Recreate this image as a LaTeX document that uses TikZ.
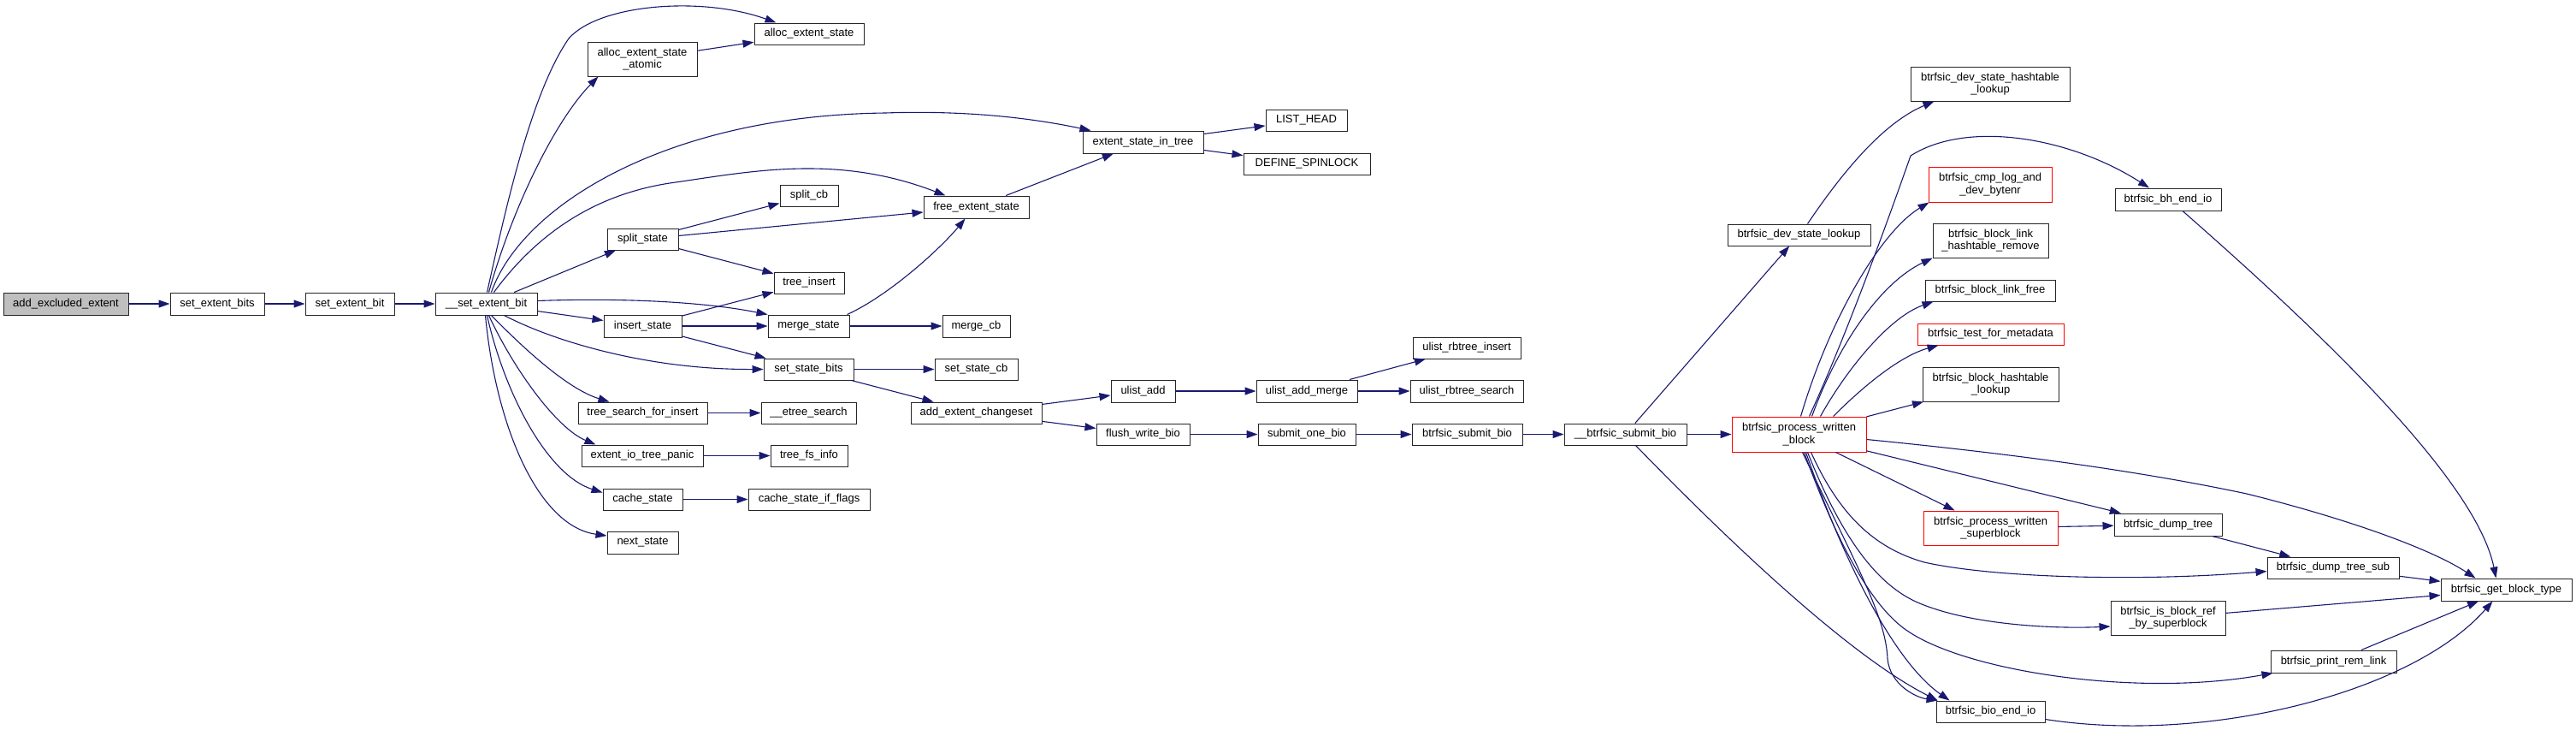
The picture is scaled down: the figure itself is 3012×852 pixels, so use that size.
\documentclass[tikz,border=0pt]{standalone}
\usepackage{fontspec}
\setmainfont{Liberation Sans}
\usetikzlibrary{arrows.meta,calc}
\definecolor{edgeblue}{RGB}{25,25,112}
\definecolor{rootgray}{RGB}{191,191,191}
\definecolor{trunc}{RGB}{255,0,0}
\tikzset{
  box/.style={draw=black!85, line width=0.5pt, fill=white, inner sep=0pt, align=center, rectangle,
              font=\fontsize{6.5pt}{7.3pt}\selectfont},
  rbox/.style={box, draw=trunc},
  gbox/.style={box, fill=rootgray},
  conn/.style={draw=edgeblue, line width=0.55pt, -{Triangle[length=6.5pt,width=4.5pt]}}
}
\newcommand{\mkbox}[7][box]{%
  \node[#1, minimum width={(#4-#2)*0.5pt}, minimum height={(#5-#3)*0.5pt}] (#6) at ({(#2+#4)/2},{(#3+#5)/2}) {#7};}
\begin{document}
\begin{tikzpicture}[x=0.5pt,y=-0.5pt]
\useasboundingbox (0,0) rectangle (3012,852);
% nodes
\mkbox[gbox]{4}{342}{150}{368}{n1}{add\_excluded\_extent}
\mkbox{199}{342}{309}{368}{n2}{set\_extent\_bits}
\mkbox{357}{342}{461}{368}{n3}{set\_extent\_bit}
\mkbox{509}{342}{628}{368}{sxb}{\_\_set\_extent\_bit}
\mkbox{882}{27}{1010}{52}{aes}{alloc\_extent\_state}
\mkbox{687}{49}{815}{89}{aesa}{alloc\_extent\_state\\\_atomic}
\mkbox{1266}{153}{1407}{179}{esit}{extent\_state\_in\_tree}
\mkbox{1480}{128}{1575}{153}{lh}{LIST\_HEAD}
\mkbox{1454}{179}{1602}{204}{ds}{DEFINE\_SPINLOCK}
\mkbox{912}{216}{980}{241}{scb}{split\_cb}
\mkbox{1080}{229}{1203}{255}{fes}{free\_extent\_state}
\mkbox{710}{267}{793}{292}{ss}{split\_state}
\mkbox{905}{318}{987}{343}{ti}{tree\_insert}
\mkbox{706}{368}{797}{394}{is}{insert\_state}
\mkbox{898}{368}{993}{394}{ms}{merge\_state}
\mkbox{1102}{368}{1181}{394}{mcb}{merge\_cb}
\mkbox{893}{419}{998}{444}{ssb}{set\_state\_bits}
\mkbox{1093}{419}{1190}{444}{sscb}{set\_state\_cb}
\mkbox{1065}{470}{1218}{495}{aec}{add\_extent\_changeset}
\mkbox{676}{470}{827}{495}{tsfi}{tree\_search\_for\_insert}
\mkbox{890}{470}{1001}{495}{ets}{\_\_etree\_search}
\mkbox{680}{520}{822}{545}{eitp}{extent\_io\_tree\_panic}
\mkbox{901}{520}{991}{545}{tfi}{tree\_fs\_info}
\mkbox{705}{571}{798}{596}{cs}{cache\_state}
\mkbox{875}{571}{1017}{596}{csif}{cache\_state\_if\_flags}
\mkbox{710}{621}{793}{647}{ns}{next\_state}
\mkbox{1299}{444}{1374}{470}{ua}{ulist\_add}
\mkbox{1469}{444}{1587}{470}{uam}{ulist\_add\_merge}
\mkbox{1652}{394}{1778}{419}{uri}{ulist\_rbtree\_insert}
\mkbox{1649}{444}{1781}{470}{urs}{ulist\_rbtree\_search}
\mkbox{1282}{495}{1391}{520}{fwb}{flush\_write\_bio}
\mkbox{1471}{495}{1585}{520}{sob}{submit\_one\_bio}
\mkbox{1651}{495}{1780}{520}{bsb}{btrfsic\_submit\_bio}
\mkbox{1829}{495}{1972}{520}{ubsb}{\_\_btrfsic\_submit\_bio}
\mkbox{2020}{262}{2187}{287}{dsl}{btrfsic\_dev\_state\_lookup}
\mkbox{2234}{78}{2420}{118}{dshl}{btrfsic\_dev\_state\_hashtable\\\_lookup}
\mkbox[rbox]{2255}{195}{2399}{236}{cmp}{btrfsic\_cmp\_log\_and\\\_dev\_bytenr}
\mkbox{2473}{220}{2597}{246}{bheio}{btrfsic\_bh\_end\_io}
\mkbox{2260}{261}{2395}{301}{blhr}{btrfsic\_block\_link\\\_hashtable\_remove}
\mkbox{2251}{327}{2403}{352}{blf}{btrfsic\_block\_link\_free}
\mkbox[rbox]{2242}{378}{2413}{403}{tfm}{btrfsic\_test\_for\_metadata}
\mkbox{2248}{429}{2407}{469}{bhl}{btrfsic\_block\_hashtable\\\_lookup}
\mkbox[rbox]{2025}{487}{2182}{528}{pwb}{btrfsic\_process\_written\\\_block}
\mkbox[rbox]{2249}{597}{2406}{637}{pws}{btrfsic\_process\_written\\\_superblock}
\mkbox{2472}{600}{2598}{626}{dt}{btrfsic\_dump\_tree}
\mkbox{2651}{651}{2805}{676}{dts}{btrfsic\_dump\_tree\_sub}
\mkbox{2854}{676}{3007}{702}{gbt}{btrfsic\_get\_block\_type}
\mkbox{2468}{702}{2602}{742}{ibr}{btrfsic\_is\_block\_ref\\\_by\_superblock}
\mkbox{2655}{760}{2802}{786}{prl}{btrfsic\_print\_rem\_link}
\mkbox{2264}{819}{2391}{844}{beio}{btrfsic\_bio\_end\_io}
% straight connectors
\draw[conn] (n1) -- (n2);
\draw[conn] (n2) -- (n3);
\draw[conn] (n3) -- (sxb);
\draw[conn] (sxb) -- (ss);
\draw[conn] (sxb) -- (is);
\draw[conn] (aesa) -- (aes);
\draw[conn] (ss) -- (scb);
\draw[conn] (ss) -- (fes);
\draw[conn] (ss) -- (ti);
\draw[conn] (is) -- (ti);
\draw[conn] (is) -- (ms);
\draw[conn] (is) -- (ssb);
\draw[conn] (ms) -- (mcb);
\draw[conn] (fes) -- (esit);
\draw[conn] (esit) -- (lh);
\draw[conn] (esit) -- (ds);
\draw[conn] (ssb) -- (sscb);
\draw[conn] (ssb) -- (aec);
\draw[conn] (tsfi) -- (ets);
\draw[conn] (eitp) -- (tfi);
\draw[conn] (cs) -- (csif);
\draw[conn] (aec) -- (ua);
\draw[conn] (aec) -- (fwb);
\draw[conn] (ua) -- (uam);
\draw[conn] (uam) -- (uri);
\draw[conn] (uam) -- (urs);
\draw[conn] (fwb) -- (sob);
\draw[conn] (sob) -- (bsb);
\draw[conn] (bsb) -- (ubsb);
\draw[conn] (ubsb) -- (dsl);
\draw[conn] (ubsb) -- (pwb);
\draw[conn] (pwb) -- (bhl);
\draw[conn] (pwb) -- (pws);
\draw[conn] (pwb) -- (dt);
\draw[conn] (pws) -- (dt);
\draw[conn] (dt) -- (dts);
\draw[conn] (dts) -- (gbt);
\draw[conn] (ibr) -- (gbt);
\draw[conn] (prl) -- (gbt);
% curved connectors from __set_extent_bit
\draw[conn] ($(sxb.north west)+(61,0)$) .. controls (590,250) and (620,110) .. (665,45)
  .. controls (700,5) and (820,-5) .. ($(aes.north west)+(26,0)$);
\draw[conn] ($(sxb.north west)+(63,0)$) .. controls (600,240) and (650,140) .. ($(aesa.south west)+(13,0)$);
\draw[conn] ($(sxb.north west)+(66,0)$) .. controls (610,240) and (780,135) .. (1035,132)
  .. controls (1150,128) and (1230,143) .. ($(esit.north west)+(10,0)$);
\draw[conn] ($(sxb.north west)+(69,0)$) .. controls (630,270) and (700,225) .. (790,213)
  .. controls (880,200) and (980,180) .. ($(fes.north west)+(26,0)$);
\draw[conn] ($(sxb.north east)+(0,10)$) .. controls (720,348) and (820,352) .. (ms.north west);
\draw[conn] ($(sxb.south west)+(81,0)$) .. controls (650,400) and (760,432) .. (ssb.west);
\draw[conn] ($(sxb.south west)+(66,0)$) .. controls (615,410) and (665,455) .. ($(tsfi.north west)+(37,0)$);
\draw[conn] ($(sxb.south west)+(63,0)$) .. controls (600,430) and (650,500) .. ($(eitp.north west)+(17,0)$);
\draw[conn] ($(sxb.south west)+(61,0)$) .. controls (590,460) and (640,555) .. ($(cs.west)+(0,-8)$);
\draw[conn] ($(sxb.south west)+(59,0)$) .. controls (580,500) and (630,615) .. ($(ns.west)+(0,-8)$);
\draw[conn] ($(ms.north east)+(-3,0)$) .. controls (1040,345) and (1100,290) .. ($(fes.south west)+(49,0)$);
% right part
\draw[conn] ($(ubsb.south)+(12,0)$) .. controls (1990,600) and (2150,760) .. ($(beio.north west)+(2,0)$);
\draw[conn] ($(dsl.north)+(10,0)$) .. controls (2165,185) and (2210,140) .. ($(dshl.south west)+(28,0)$);
\draw[conn] ($(pwb.north)+(12,0)$) .. controls (2160,390) and (2210,250) .. (2234,182)
  .. controls (2300,140) and (2420,160) .. ($(bheio.north)+(-22,0)$);
\draw[conn] ($(pwb.north)+(2,0)$) .. controls (2140,370) and (2200,270) .. ($(cmp.south west)+(1,0)$);
\draw[conn] ($(pwb.north)+(15,0)$) .. controls (2150,400) and (2200,330) .. (blhr.south west);
\draw[conn] ($(pwb.north)+(25,0)$) .. controls (2160,430) and (2210,370) .. ($(blf.south west)+(10,0)$);
\draw[conn] ($(pwb.north)+(40,0)$) .. controls (2185,445) and (2225,415) .. ($(tfm.south west)+(25,0)$);
\draw[conn] ($(pwb.east)+(0,6)$) .. controls (2350,530) and (2500,550) .. (2627,577)
  .. controls (2740,605) and (2840,640) .. ($(gbt.north west)+(41,0)$);
\draw[conn] ($(bheio.south)+(17,0)$) .. controls (2710,385) and (2895,560) .. ($(gbt.north west)+(65,0)$);
\draw[conn] ($(pwb.south)+(14,0)$) .. controls (2150,600) and (2190,640) .. (2250,657)
  .. controls (2330,675) and (2500,680) .. ($(dts.west)+(0,4)$);
\draw[conn] ($(pwb.south)+(10,0)$) .. controls (2150,620) and (2190,680) .. (2240,703)
  .. controls (2300,730) and (2400,735) .. ($(ibr.west)+(0,10)$);
\draw[conn] ($(pwb.south)+(6,0)$) .. controls (2150,640) and (2190,710) .. (2230,737)
  .. controls (2300,785) and (2500,815) .. ($(prl.south west)+(3,0)$);
\draw[conn] ($(pwb.south)+(4,0)$) .. controls (2170,660) and (2205,720) .. (2207,770)
  .. controls (2210,800) and (2240,815) .. ($(beio.north west)+(2,0)$);
\draw[conn] ($(pwb.south)+(8,0)$) .. controls (2150,640) and (2210,770) .. ($(beio.north west)+(16,0)$);
\draw[conn] ($(beio.east)+(0,9)$) .. controls (2580,870) and (2820,810) .. ($(gbt.south west)+(61,0)$);
\end{tikzpicture}
\end{document}
